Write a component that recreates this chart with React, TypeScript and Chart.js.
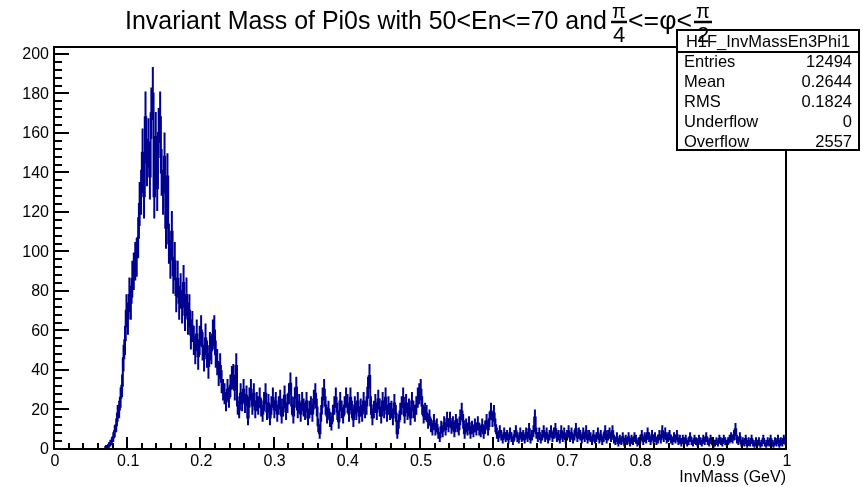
import { useEffect, useRef } from "react";
import { Chart, registerables } from "chart.js";

Chart.register(...registerables);

// ---------- data ----------
const X_MIN = 0;
const X_MAX = 1;
const Y_MIN = 0;
const Y_MAX = 203.5;
const BIN_WIDTH = 0.002; // 500 bins

// counts per bin, 0.000 - 0.200
const COUNTS_0_02 = [
  0, 0, 0, 0, 0, 0, 0, 0, 0, 0,
  0, 0, 0, 0, 0, 0, 0, 0, 0, 0,
  0, 0, 0, 0, 0, 0, 0, 0, 0, 0,
  0, 0, 0, 0, 0, 1, 1, 2, 3, 4,
  6, 9, 12, 18, 20, 26, 32, 46, 55, 70,
  66, 78, 74, 86, 90, 95, 97, 107, 124, 130,
  150, 128, 168, 145, 155, 138, 170, 180, 128, 158,
  132, 160, 168, 140, 130, 148, 112, 138, 104, 96,
  110, 88, 95, 78, 86, 74, 80, 72, 84, 68,
  78, 66, 70, 58, 62, 55, 50, 58, 47, 55,
];
// 0.200 - 0.400
const COUNTS_02_04 = [
  60, 52, 46, 56, 48, 42, 52, 50, 58, 60,
  48, 44, 38, 42, 34, 30, 28, 24, 30, 26,
  32, 36, 37, 30, 42, 22, 20, 28, 24, 30,
  23, 27, 16, 26, 30, 22, 28, 20, 24, 22,
  26, 21, 18, 24, 28, 19, 23, 16, 22, 26,
  20, 24, 18, 22, 25, 17, 21, 27, 19, 23,
  28, 33, 22, 17, 26, 31, 20, 23, 18, 24,
  21, 19, 24, 16, 20, 22, 18, 25, 28, 21,
  12, 8, 18, 26, 30, 22, 17, 20, 15, 13,
  18, 22, 26, 19, 14, 24, 20, 17, 22, 26,
];
// 0.400 - 0.600
const COUNTS_04_06 = [
  23, 18, 26, 20, 15, 22, 19, 24, 17, 21,
  18, 24, 20, 22, 31, 37, 22, 16, 20, 23,
  19, 25, 21, 17, 24, 20, 26, 18, 22, 19,
  20, 16, 23, 18, 8, 14, 19, 22, 26, 17,
  23, 19, 21, 16, 24, 20, 18, 22, 26, 28,
  30, 22, 17, 19, 18, 14, 16, 12, 10, 14,
  10, 12, 8, 6, 11, 9, 13, 10, 15, 12,
  15, 11, 13, 9, 14, 12, 10, 16, 19, 14,
  8, 12, 10, 13, 8, 11, 9, 12, 10, 13,
  10, 9, 12, 8, 11, 14, 10, 15, 19, 15,
];
// 0.600 - 0.800
const COUNTS_06_08 = [
  18, 12, 8, 6, 9, 7, 5, 8, 6, 7,
  5, 8, 6, 4, 7, 9, 6, 5, 8, 6,
  7, 5, 8, 6, 10, 5, 7, 9, 16, 8,
  6, 8, 5, 7, 9, 6, 8, 5, 7, 9,
  6, 8, 10, 6, 7, 5, 9, 6, 8, 5,
  7, 9, 6, 8, 5, 7, 10, 6, 8, 7,
  5, 8, 6, 9, 5, 7, 6, 4, 7, 5,
  6, 8, 5, 7, 4, 6, 9, 5, 7, 8,
  6, 9, 5, 4, 6, 3, 5, 4, 6, 3,
  5, 4, 6, 3, 5, 4, 6, 5, 3, 4,
];
// 0.800 - 1.000
const COUNTS_08_10 = [
  5, 7, 4, 6, 5, 8, 6, 4, 7, 5,
  6, 4, 5, 7, 5, 9, 6, 8, 5, 6,
  7, 5, 4, 6, 5, 7, 4, 5, 3, 5,
  4, 5, 3, 4, 6, 4, 3, 5, 4, 3,
  5, 4, 3, 5, 4, 6, 4, 3, 5, 4,
  2, 3, 4, 3, 5, 4, 3, 5, 4, 3,
  4, 5, 6, 5, 7, 10, 5, 4, 6, 3,
  4, 3, 5, 2, 4, 3, 5, 3, 2, 4,
  3, 4, 2, 3, 5, 3, 2, 4, 3, 5,
  3, 2, 4, 3, 5, 2, 4, 3, 5, 4,
];

const COUNTS = [
  ...COUNTS_0_02,
  ...COUNTS_02_04,
  ...COUNTS_04_06,
  ...COUNTS_06_08,
  ...COUNTS_08_10,
];

const X_TICK_LABELS = ["0", "0.1", "0.2", "0.3", "0.4", "0.5", "0.6", "0.7", "0.8", "0.9", "1"];
const Y_TICK_LABELS = ["0", "20", "40", "60", "80", "100", "120", "140", "160", "180", "200"];
const X_MINOR_STEP = 0.02;
const Y_MINOR_STEP = 4;

const TITLE_MAIN = "Invariant Mass of Pi0s with 50<En<=70 and";
const TITLE_MID = "<=φ<";
const FRAC1 = ["π", "4"];
const FRAC2 = ["π", "2"];
const X_TITLE = "InvMass (GeV)";

const HIST_NAME = "H1F_InvMassEn3Phi1";
const STAT_LABELS = ["Entries", "Mean", "RMS", "Underflow", "Overflow"];
const STAT_VALUES = ["12494", "0.2644", "0.1824", "0", "2557"];

// ---------- style ----------
const BLUE = "#000090";
const FONT = '"Liberation Sans", Arial, Helvetica, sans-serif';

const rootPlugin = {
  id: "rootStyle",
  afterDatasetsDraw(chart: any) {
    const { ctx, chartArea, scales } = chart;
    const xs = scales.x;
    const ys = scales.y;
    ctx.save();
    ctx.beginPath();
    ctx.rect(chartArea.left, chartArea.top, chartArea.right - chartArea.left, chartArea.bottom - chartArea.top);
    ctx.clip();
    ctx.strokeStyle = BLUE;
    ctx.lineWidth = 2;
    ctx.beginPath();
    COUNTS.forEach((v, i) => {
      if (v <= 0) return;
      const c = X_MIN + (i + 0.5) * BIN_WIDTH;
      const px = xs.getPixelForValue(c);
      const e = Math.sqrt(v);
      ctx.moveTo(px, ys.getPixelForValue(v - e));
      ctx.lineTo(px, ys.getPixelForValue(v + e));
    });
    ctx.stroke();
    ctx.restore();
  },
  afterDraw(chart: any) {
    const { ctx, chartArea, scales } = chart;
    const xs = scales.x;
    const ys = scales.y;
    const { left, right, top, bottom } = chartArea;
    ctx.save();

    // ticks
    ctx.strokeStyle = "#000";
    ctx.lineWidth = 2;
    ctx.beginPath();
    for (let v = Y_MIN; v <= Y_MAX + 1e-9; v += Y_MINOR_STEP) {
      const py = Math.round(ys.getPixelForValue(v));
      const major = Math.abs(v / 20 - Math.round(v / 20)) < 1e-6;
      ctx.moveTo(left, py);
      ctx.lineTo(left + (major ? 15 : 8), py);
    }
    for (let k = 0; k * X_MINOR_STEP <= X_MAX + 1e-9; k++) {
      const v = X_MIN + k * X_MINOR_STEP;
      const px = Math.round(xs.getPixelForValue(v));
      const major = k % 5 === 0;
      ctx.moveTo(px, bottom);
      ctx.lineTo(px, bottom - (major ? 12 : 6));
    }
    ctx.stroke();

    // frame
    ctx.lineWidth = 2;
    ctx.strokeRect(left, top, right - left, bottom - top);

    // tick labels
    ctx.fillStyle = "#000";
    ctx.font = `16px ${FONT}`;
    ctx.textAlign = "right";
    ctx.textBaseline = "middle";
    Y_TICK_LABELS.forEach((t) => {
      const v = parseFloat(t);
      ctx.fillText(t, left - 5, ys.getPixelForValue(v) + 1);
    });
    ctx.textAlign = "center";
    ctx.textBaseline = "top";
    X_TICK_LABELS.forEach((t) => {
      const v = parseFloat(t);
      ctx.fillText(t, xs.getPixelForValue(v) + 1, bottom + 5);
    });
    ctx.textAlign = "right";
    ctx.textBaseline = "middle";
    ctx.fillText(X_TITLE, right, bottom + 29);

    // stats box
    const bx = 677, by = 30, bw = 182, bh = 120;
    ctx.fillStyle = "#fff";
    ctx.fillRect(bx, by, bw, bh);
    ctx.strokeStyle = "#000";
    ctx.lineWidth = 2;
    ctx.strokeRect(bx, by, bw, bh);
    ctx.beginPath();
    ctx.moveTo(bx, 52);
    ctx.lineTo(bx + bw, 52);
    ctx.stroke();
    ctx.fillStyle = "#000";
    ctx.font = `16.5px ${FONT}`;
    ctx.textBaseline = "middle";
    ctx.textAlign = "center";
    ctx.fillText(HIST_NAME, bx + bw / 2, 42);
    STAT_LABELS.forEach((lab, i) => {
      const yy = 62 + i * 20;
      ctx.textAlign = "left";
      ctx.fillText(lab, 684, yy);
      ctx.textAlign = "right";
      ctx.fillText(STAT_VALUES[i], 852, yy);
    });

    // title
    ctx.textBaseline = "alphabetic";
    ctx.textAlign = "left";
    ctx.font = `25px ${FONT}`;
    const w = ctx.measureText(TITLE_MAIN).width;
    const sx = 482 / w;
    ctx.save();
    ctx.translate(125, 29);
    ctx.scale(sx, 1);
    ctx.fillText(TITLE_MAIN, 0, 0);
    ctx.restore();

    const drawFrac = (parts: string[], cx: number, half: number) => {
      ctx.textAlign = "center";
      ctx.font = `20px ${FONT}`;
      ctx.fillText(parts[0], cx, 18);
      ctx.font = `22px ${FONT}`;
      ctx.fillText(parts[1], cx, 42);
      ctx.beginPath();
      ctx.lineWidth = 2.5;
      ctx.moveTo(cx - half, 22);
      ctx.lineTo(cx + half, 22);
      ctx.stroke();
    };
    drawFrac(FRAC1, 619, 8);

    ctx.textAlign = "left";
    ctx.font = `25px ${FONT}`;
    const wm = ctx.measureText(TITLE_MID).width;
    ctx.save();
    ctx.translate(628, 29);
    ctx.scale(64 / wm, 1);
    ctx.fillText(TITLE_MID, 0, 0);
    ctx.restore();

    drawFrac(FRAC2, 703, 9);

    ctx.restore();
  },
};

export default function App() {
  const ref = useRef<HTMLCanvasElement | null>(null);

  useEffect(() => {
    if (!ref.current) return;
    const points = COUNTS.map((v, i) => ({ x: X_MIN + (i + 0.5) * BIN_WIDTH, y: v }));
    const chart = new Chart(ref.current, {
      type: "line",
      data: {
        datasets: [
          {
            data: points,
            stepped: "middle",
            borderColor: BLUE,
            borderWidth: 2,
            pointRadius: 0,
            fill: false,
          },
        ],
      },
      options: {
        responsive: false,
        animation: false,
        devicePixelRatio: 1,
        layout: { padding: { left: 54, right: 77, top: 47, bottom: 38 } },
        plugins: { legend: { display: false }, title: { display: false }, tooltip: { enabled: false } },
        scales: {
          x: { type: "linear", min: X_MIN, max: X_MAX, display: false },
          y: { type: "linear", min: Y_MIN, max: Y_MAX, display: false },
        },
      },
      plugins: [rootPlugin],
    });
    return () => chart.destroy();
  }, []);

  return (
    <div style={{ position: "fixed", left: 0, top: 0, width: 863, height: 487, background: "#fff" }}>
      <canvas ref={ref} width={863} height={487} style={{ display: "block", width: 863, height: 487 }} />
    </div>
  );
}
